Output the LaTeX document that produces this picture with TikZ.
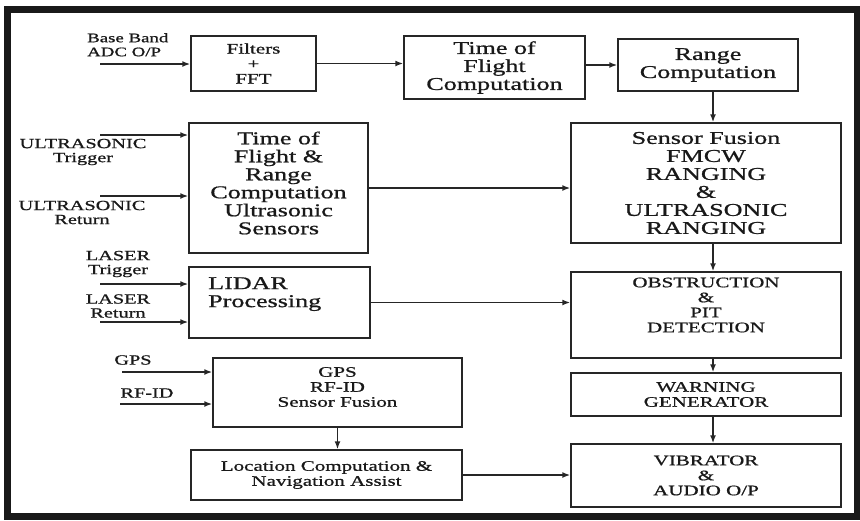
\documentclass[tikz,border=0pt]{standalone}
\usepackage{fontspec}
\setmainfont[FakeStretch=1.45, FakeBold=0.9]{Liberation Serif}
\usetikzlibrary{arrows.meta}
\tikzset{
    blk/.style={draw=black!85, line width=1.5pt, inner sep=0pt, align=center, text=black!90},
    bigTxt/.style={font=\fontsize{18}{18}\selectfont, align=center, inner sep=0pt, text=black!90},
    smlTxt/.style={font=\fontsize{14.5}{15}\selectfont, align=center, inner sep=0pt, text=black!90},
    inTxt/.style={font=\fontsize{14}{14}\selectfont, align=center, inner sep=0pt, text=black!90},
    flow/.style={->, line width=1.5pt, draw=black!85}
}

\begin{document}
\begin{tikzpicture}[x=1pt, y=-1pt, >={Latex[length=8pt, width=6pt]}]
    \useasboundingbox (0,0) rectangle (860,520);
    \draw[line width=7pt, black!90] (7.5,9) rectangle (857,516);

    % --- FMCW chain ---
    \node[blk, smlTxt, minimum width=125pt, minimum height=55pt] (fft) at (253.5,63.5) {Filters\\+\\FFT};
    \node[blk, bigTxt, minimum width=181pt, minimum height=63pt] (tof) at (494.5,67.5) {Time of\\Flight\\Computation};
    \node[blk, bigTxt, minimum width=180pt, minimum height=52pt] (rng) at (708,65) {Range\\Computation};
    \node[blk, bigTxt, minimum width=270pt, minimum height=120pt] (fus) at (706,183) {Sensor Fusion\\FMCW\\RANGING\\\&\\ULTRASONIC\\RANGING};

    % --- ultrasonic and lidar ---
    \node[blk, minimum width=179pt, minimum height=130pt] (ultra) at (278.5,188) {};
    \node[bigTxt] (ultraTxt) at (278.5,183) {Time of\\Flight \&\\Range\\Computation\\Ultrasonic\\Sensors};
    \node[blk, minimum width=181pt, minimum height=71pt] (lidar) at (279.5,302.5) {};
    \node[bigTxt, align=left, anchor=north west] (lidarTxt) at (208,277) {LIDAR\\Processing};

    % --- output column ---
    \node[blk, minimum width=270pt, minimum height=86pt] (obs) at (706,315) {};
    \node[smlTxt] (obsTxt) at (706,305) {OBSTRUCTION\\\&\\PIT\\DETECTION};
    \node[blk, smlTxt, minimum width=270pt, minimum height=43pt] (warn) at (706,394.5) {WARNING\\GENERATOR};
    \node[blk, smlTxt, minimum width=270pt, minimum height=63pt] (vib) at (706,475.5) {VIBRATOR\\\&\\AUDIO O/P};

    % --- navigation ---
    \node[blk, minimum width=249pt, minimum height=69pt] (gps) at (337.5,392.5) {};
    \node[smlTxt] (gpsTxt) at (337.5,387) {GPS\\RF-ID\\Sensor Fusion};
    \node[blk, smlTxt, minimum width=271pt, minimum height=50pt] (loc) at (326.5,475) {Location Computation \&\\Navigation Assist};

    % --- inputs ---
    \node[inTxt, font=\fontsize{13}{14}\selectfont, align=left, anchor=north west] (bbTxt) at (87,33) {Base Band\\ADC O/P};
    \node[inTxt] (utTxt) at (83,152) {ULTRASONIC\\Trigger};
    \node[inTxt] (urTxt) at (82,212.5) {ULTRASONIC\\Return};
    \node[inTxt] (ltTxt) at (118,264) {LASER\\Trigger};
    \node[inTxt] (lrTxt) at (118,306) {LASER\\Return};
    \node[inTxt] (gpsInTxt) at (133,360) {GPS};
    \node[inTxt] (rfTxt) at (147,393) {RF-ID};

    \coordinate (bbIn) at (100,64);
    \coordinate (utIn) at (100,135);
    \coordinate (urIn) at (100,196);
    \coordinate (ltIn) at (100,284);
    \coordinate (lrIn) at (100,322);
    \coordinate (gpsIn) at (122,372);
    \coordinate (rfIn) at (120,404);
    \coordinate (spine) at (713,0);

    \draw[flow] (bbIn) -- (bbIn -| fft.west);
    \draw[flow] (utIn) -- (utIn -| ultra.west);
    \draw[flow] (urIn) -- (urIn -| ultra.west);
    \draw[flow] (ltIn) -- (ltIn -| lidar.west);
    \draw[flow] (lrIn) -- (lrIn -| lidar.west);
    \draw[flow] (gpsIn) -- (gpsIn -| gps.west);
    \draw[flow] (rfIn) -- (rfIn -| gps.west);

    % --- links between blocks ---
    \draw[flow] (fft.east) -- (fft.east -| tof.west);
    \draw[flow] (tof.east |- rng.west) -- (rng.west);
    \draw[flow] (rng.south -| spine) -- (fus.north -| spine);
    \draw[flow] (ultra.east) -- (ultra.east -| fus.west);
    \draw[flow] (fus.south -| spine) -- (obs.north -| spine);
    \draw[flow] (lidar.east) -- (lidar.east -| obs.west);
    \draw[flow] (obs.south -| spine) -- (warn.north -| spine);
    \draw[flow] (warn.south -| spine) -- (vib.north -| spine);
    \draw[flow] (gps.south) -- (gps.south |- loc.north);
    \draw[flow] (loc.east) -- (loc.east -| vib.west);
\end{tikzpicture}
\end{document}
